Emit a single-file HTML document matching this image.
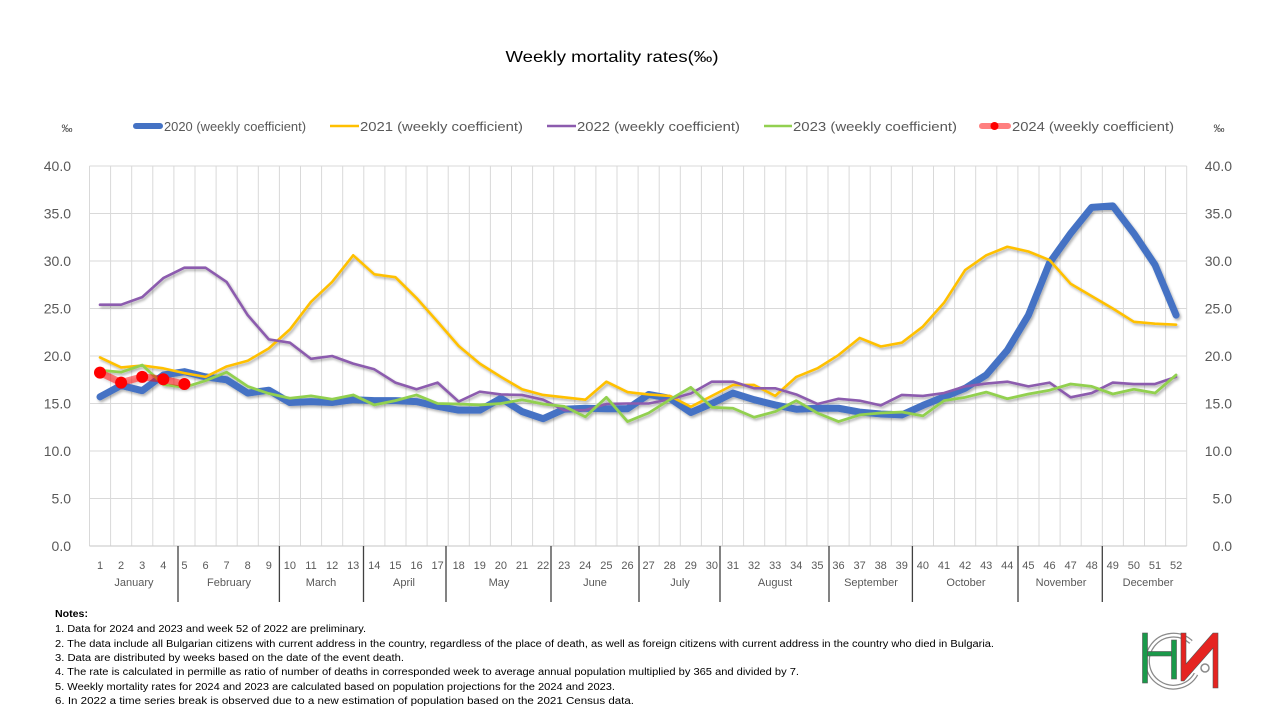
<!DOCTYPE html>
<html><head><meta charset="utf-8"><style>
html,body{margin:0;padding:0;background:#fff;}
svg{display:block;font-family:"Liberation Sans",Arial,sans-serif;}
</style></head><body>
<svg width="1280" height="720" viewBox="0 0 1280 720" xmlns="http://www.w3.org/2000/svg">
<defs>
<filter id="sh" x="-5%" y="-5%" width="110%" height="110%">
<feDropShadow dx="1.5" dy="2" stdDeviation="1.2" flood-color="#000" flood-opacity="0.3"/>
</filter>
</defs>
<rect width="1280" height="720" fill="#fff"/>
<text x="612" y="62" font-size="16" text-anchor="middle" fill="#000" textLength="213" lengthAdjust="spacingAndGlyphs">Weekly mortality rates(‰)</text>

<!-- legend -->
<text x="67" y="132" font-size="11" text-anchor="middle" fill="#404040">‰</text>
<text x="1219" y="132" font-size="11" text-anchor="middle" fill="#404040">‰</text>
<line x1="136" y1="126" x2="160" y2="126" stroke="#4472C4" stroke-width="6" stroke-linecap="round"/>
<text x="164" y="131" font-size="13" fill="#595959" textLength="142" lengthAdjust="spacingAndGlyphs">2020 (weekly coefficient)</text>
<line x1="330" y1="126" x2="359" y2="126" stroke="#FFC000" stroke-width="2.5"/>
<text x="360" y="131" font-size="13" fill="#595959" textLength="163" lengthAdjust="spacingAndGlyphs">2021 (weekly coefficient)</text>
<line x1="547" y1="126" x2="576" y2="126" stroke="#8C5BAE" stroke-width="2.5"/>
<text x="577" y="131" font-size="13" fill="#595959" textLength="163" lengthAdjust="spacingAndGlyphs">2022 (weekly coefficient)</text>
<line x1="764" y1="126" x2="792" y2="126" stroke="#92D050" stroke-width="2.5"/>
<text x="793" y="131" font-size="13" fill="#595959" textLength="164" lengthAdjust="spacingAndGlyphs">2023 (weekly coefficient)</text>
<line x1="982" y1="126" x2="1008" y2="126" stroke="#ff0000" stroke-opacity="0.5" stroke-width="6" stroke-linecap="round"/>
<circle cx="994.5" cy="126" r="4" fill="#ff0000"/>
<text x="1012" y="131" font-size="13" fill="#595959" textLength="162" lengthAdjust="spacingAndGlyphs">2024 (weekly coefficient)</text>

<!-- grid -->
<g stroke="#d9d9d9" stroke-width="1" fill="none">
<path d="M89.5 166H1186.7M89.5 213.5H1186.7M89.5 261H1186.7M89.5 308.5H1186.7M89.5 356H1186.7M89.5 403.5H1186.7M89.5 451H1186.7M89.5 498.5H1186.7"/>
<path d="M89.5 166V546M110.6 166V546M131.7 166V546M152.8 166V546M173.9 166V546M195 166V546M216.1 166V546M237.2 166V546M258.3 166V546M279.4 166V546M300.5 166V546M321.6 166V546M342.7 166V546M363.8 166V546M384.9 166V546M406 166V546M427.1 166V546M448.2 166V546M469.3 166V546M490.4 166V546M511.5 166V546M532.6 166V546M553.7 166V546M574.8 166V546M595.9 166V546M617 166V546M638.1 166V546M659.2 166V546M680.3 166V546M701.4 166V546M722.5 166V546M743.6 166V546M764.7 166V546M785.8 166V546M806.9 166V546M828 166V546M849.1 166V546M870.2 166V546M891.3 166V546M912.4 166V546M933.5 166V546M954.6 166V546M975.7 166V546M996.8 166V546M1017.9 166V546M1039 166V546M1060.1 166V546M1081.2 166V546M1102.3 166V546M1123.4 166V546M1144.5 166V546M1165.6 166V546M1186.7 166V546"/>
</g>
<line x1="89.5" y1="546" x2="1186.7" y2="546" stroke="#d0d0d0" stroke-width="1.2"/>

<!-- month separators -->
<g stroke="#404040" stroke-width="1.3">
<path d="M178 546V602M279.4 546V602M363.5 546V602M446 546V602M551 546V602M639 546V602M720 546V602M829 546V602M912.4 546V602M1018 546V602M1102.3 546V602"/>
</g>

<!-- y labels -->
<g font-size="14" fill="#595959">
<g text-anchor="end">
<text x="71" y="171">40.0</text><text x="71" y="218.5">35.0</text><text x="71" y="266">30.0</text><text x="71" y="313.5">25.0</text><text x="71" y="361">20.0</text><text x="71" y="408.5">15.0</text><text x="71" y="456">10.0</text><text x="71" y="503.5">5.0</text><text x="71" y="551">0.0</text>
</g>
<g text-anchor="end">
<text x="1232" y="171">40.0</text><text x="1232" y="218.5">35.0</text><text x="1232" y="266">30.0</text><text x="1232" y="313.5">25.0</text><text x="1232" y="361">20.0</text><text x="1232" y="408.5">15.0</text><text x="1232" y="456">10.0</text><text x="1232" y="503.5">5.0</text><text x="1232" y="551">0.0</text>
</g>
</g>

<!-- week labels -->
<g font-size="11" fill="#595959" text-anchor="middle">
<text x="100" y="569">1</text><text x="121.1" y="569">2</text><text x="142.2" y="569">3</text><text x="163.3" y="569">4</text><text x="184.4" y="569">5</text><text x="205.5" y="569">6</text><text x="226.6" y="569">7</text><text x="247.7" y="569">8</text><text x="268.8" y="569">9</text><text x="289.9" y="569">10</text><text x="311" y="569">11</text><text x="332.1" y="569">12</text><text x="353.2" y="569">13</text><text x="374.3" y="569">14</text><text x="395.4" y="569">15</text><text x="416.5" y="569">16</text><text x="437.6" y="569">17</text><text x="458.7" y="569">18</text><text x="479.8" y="569">19</text><text x="500.9" y="569">20</text><text x="522" y="569">21</text><text x="543.1" y="569">22</text><text x="564.2" y="569">23</text><text x="585.3" y="569">24</text><text x="606.4" y="569">25</text><text x="627.5" y="569">26</text><text x="648.6" y="569">27</text><text x="669.7" y="569">28</text><text x="690.8" y="569">29</text><text x="711.9" y="569">30</text><text x="733" y="569">31</text><text x="754.1" y="569">32</text><text x="775.2" y="569">33</text><text x="796.3" y="569">34</text><text x="817.4" y="569">35</text><text x="838.5" y="569">36</text><text x="859.6" y="569">37</text><text x="880.7" y="569">38</text><text x="901.8" y="569">39</text><text x="922.9" y="569">40</text><text x="944" y="569">41</text><text x="965.1" y="569">42</text><text x="986.2" y="569">43</text><text x="1007.3" y="569">44</text><text x="1028.4" y="569">45</text><text x="1049.5" y="569">46</text><text x="1070.6" y="569">47</text><text x="1091.7" y="569">48</text><text x="1112.8" y="569">49</text><text x="1133.9" y="569">50</text><text x="1155" y="569">51</text><text x="1176.1" y="569">52</text>
</g>
<g font-size="11" fill="#595959" text-anchor="middle">
<text x="134" y="586">January</text><text x="229" y="586">February</text><text x="321" y="586">March</text><text x="404" y="586">April</text><text x="499" y="586">May</text><text x="595" y="586">June</text><text x="680" y="586">July</text><text x="775" y="586">August</text><text x="871" y="586">September</text><text x="966" y="586">October</text><text x="1061" y="586">November</text><text x="1148" y="586">December</text>
</g>

<!-- series -->
<g filter="url(#sh)">
<g transform="translate(100,546) scale(21.1,-9.5)" fill="none" stroke-linejoin="round" stroke-linecap="round">
<polyline vector-effect="non-scaling-stroke" stroke="#4472C4" stroke-width="7" points="0,15.7 1,16.9 2,16.35 3,18 4,18.35 5,17.8 6,17.5 7,16.1 8,16.4 9,15.1 10,15.2 11,15.1 12,15.4 13,15.3 14,15.3 15,15.2 16,14.7 17,14.3 18,14.3 19,15.55 20,14.15 21,13.4 22,14.4 23,14.5 24,14.45 25,14.45 26,15.95 27,15.55 28,14.05 29,15 30,16.1 31,15.4 32,14.85 33,14.4 34,14.5 35,14.5 36,14.1 37,13.9 38,13.8 39,14.8 40,15.7 41,16.6 42,18 43,20.6 44,24.3 45,29.8 46,32.9 47,35.65 48,35.8 49,32.9 50,29.6 51,24.3"/>
<polyline vector-effect="non-scaling-stroke" stroke="#FFC000" stroke-width="2.6" points="0,19.85 1,18.8 2,19 3,18.7 4,18.2 5,17.8 6,18.9 7,19.5 8,20.8 9,22.8 10,25.7 11,27.8 12,30.6 13,28.6 14,28.3 15,26.1 16,23.6 17,21.05 18,19.2 19,17.8 20,16.5 21,15.9 22,15.65 23,15.4 24,17.3 25,16.2 26,15.95 27,15.8 28,14.65 29,15.8 30,16.95 31,16.95 32,15.8 33,17.8 34,18.7 35,20.1 36,21.9 37,21 38,21.4 39,23.1 40,25.6 41,29.05 42,30.6 43,31.5 44,31 45,30.1 46,27.6 47,26.3 48,25 49,23.6 50,23.4 51,23.3"/>
<polyline vector-effect="non-scaling-stroke" stroke="#8C5BAE" stroke-width="2.6" points="0,25.4 1,25.4 2,26.2 3,28.2 4,29.3 5,29.3 6,27.8 7,24.3 8,21.75 9,21.4 10,19.7 11,20 12,19.2 13,18.6 14,17.2 15,16.5 16,17.2 17,15.2 18,16.25 19,15.95 20,15.9 21,15.4 22,14.3 23,14.3 24,14.95 25,15 26,15 27,15.45 28,16.05 29,17.3 30,17.3 31,16.6 32,16.6 33,15.95 34,14.95 35,15.5 36,15.3 37,14.8 38,15.9 39,15.8 40,16.1 41,16.8 42,17.1 43,17.3 44,16.8 45,17.2 46,15.65 47,16.1 48,17.2 49,17.05 50,17.05 51,17.8"/>
<polyline vector-effect="non-scaling-stroke" stroke="#92D050" stroke-width="2.8" points="0,18.5 1,18.3 2,19.05 3,17 4,16.7 5,17.4 6,18.3 7,16.8 8,16.05 9,15.55 10,15.8 11,15.45 12,15.9 13,14.85 14,15.3 15,15.9 16,15 17,14.95 18,14.85 19,15 20,15.4 21,14.95 22,14.7 23,13.6 24,15.65 25,13.1 26,14 27,15.4 28,16.7 29,14.6 30,14.5 31,13.55 32,14.15 33,15.3 34,14 35,13.1 36,13.8 37,14 38,14.1 39,13.7 40,15.3 41,15.65 42,16.2 43,15.5 44,16 45,16.4 46,17.05 47,16.8 48,16 49,16.5 50,16.1 51,18"/>
<polyline vector-effect="non-scaling-stroke" stroke="#ff0000" stroke-opacity="0.5" stroke-width="7" points="0,18.25 1,17.2 2,17.8 3,17.55 4,17.05"/>
</g>
</g>
<g fill="#ff0000">
<circle cx="100" cy="372.6" r="6"/>
<circle cx="121.1" cy="382.6" r="6"/>
<circle cx="142.2" cy="376.9" r="6"/>
<circle cx="163.3" cy="379.3" r="6"/>
<circle cx="184.4" cy="384" r="6"/>
</g>

<!-- notes -->
<g font-size="10" fill="#000">
<text x="55" y="617" font-weight="bold" textLength="33" lengthAdjust="spacingAndGlyphs">Notes:</text>
<text x="55" y="632" textLength="311" lengthAdjust="spacingAndGlyphs">1. Data for 2024 and 2023 and week 52 of 2022 are preliminary.</text>
<text x="55" y="647" textLength="939" lengthAdjust="spacingAndGlyphs">2. The data include all Bulgarian citizens with current address in the country, regardless of the place of death, as well as foreign citizens with current address in the country who died in Bulgaria.</text>
<text x="55" y="661" textLength="349" lengthAdjust="spacingAndGlyphs">3. Data are distributed by weeks  based on the date of the event death.</text>
<text x="55" y="675" textLength="744" lengthAdjust="spacingAndGlyphs">4. The rate is calculated in permille as ratio of number of deaths in corresponded week to average annual population multiplied by 365 and divided by 7.</text>
<text x="55" y="690" textLength="560" lengthAdjust="spacingAndGlyphs">5. Weekly mortality rates for 2024 and 2023 are calculated based on population projections for the 2024 and 2023.</text>
<text x="55" y="704" textLength="579" lengthAdjust="spacingAndGlyphs">6. In 2022 a time series break is observed due to a new estimation of population based on the 2021 Census data.</text>
</g>

<!-- logo -->
<g>
<path d="M1191 642 A26 26 0 1 0 1196 674" fill="none" stroke="#8a8a8a" stroke-width="5"/>
<path d="M1191 642 A26 26 0 1 0 1196 674" fill="none" stroke="#fff" stroke-width="2.5"/>
<rect x="1142.5" y="633" width="5" height="50" fill="#1a9a4a" stroke="#555" stroke-width="0.6"/>
<rect x="1147.5" y="651.5" width="24" height="4.5" fill="#1a9a4a" stroke="#555" stroke-width="0.6"/>
<rect x="1171.5" y="640" width="5" height="39" fill="#1a9a4a" stroke="#555" stroke-width="0.6"/>
<polygon points="1181,633 1186,633 1186,664 1213,633 1218,633 1218,688 1213,688 1213,648 1184,681 1181,681" fill="#e52421" stroke="#555" stroke-width="0.6"/>
<circle cx="1205" cy="668" r="4" fill="#fff" stroke="#8a8a8a" stroke-width="1.5"/>
</g>
</svg>
</body></html>
